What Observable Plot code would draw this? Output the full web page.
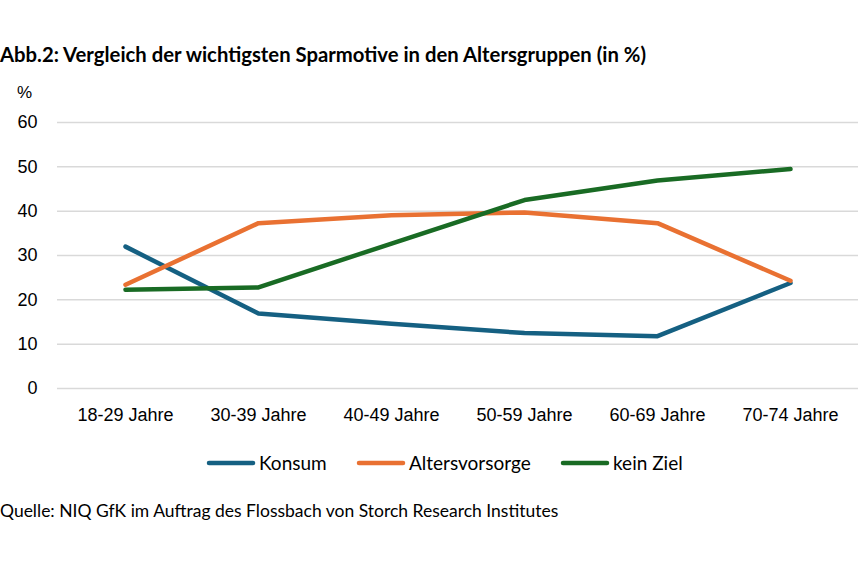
<!DOCTYPE html>
<html><head><meta charset="utf-8">
<script src="https://cdn.jsdelivr.net/npm/d3@7"></script>
<script src="https://cdn.jsdelivr.net/npm/@observablehq/plot@0.6"></script>
<style>
body{margin:0;background:#fff;width:868px;height:562px;position:relative;overflow:hidden;font-family:Lato,"Open Sans",sans-serif;color:#000}
#title{position:absolute;left:0;top:42px;font-weight:bold;font-size:20.3px;white-space:nowrap}
#pct{position:absolute;left:17px;top:83px;font-family:"Liberation Sans",Arial,sans-serif;font-size:17px}
#chart{position:absolute;left:0;top:80px}
.leg{position:absolute;top:451px;font-size:19px;display:flex;align-items:center;white-space:nowrap}
.leg svg{margin-right:3px}
#caption{position:absolute;left:0;top:500px;font-size:17.5px;white-space:nowrap}
</style></head>
<body>
<div id="title">Abb.2: Vergleich der wichtigsten Sparmotive in den Altersgruppen (in %)</div>
<div id="pct">%</div>
<div id="chart"></div>
<div id="legend"></div>
<div id="caption">Quelle: NIQ GfK im Auftrag des Flossbach von Storch Research Institutes</div>
<script>
const categories = ["18-29 Jahre","30-39 Jahre","40-49 Jahre","50-59 Jahre","60-69 Jahre","70-74 Jahre"];
const konsum = [32.0, 16.9, 14.6, 12.5, 11.8, 23.8];
const altersvorsorge = [23.4, 37.3, 39.1, 39.7, 37.3, 24.3];
const keinZiel = [22.3, 22.8, 32.7, 42.5, 46.9, 49.5];
const seriesNames = ["Konsum","Altersvorsorge","kein Ziel"];
const seriesColors = ["#156082","#E97132","#196B24"];
const yTicks = [0,10,20,30,40,50,60];

const seriesValues = [konsum, altersvorsorge, keinZiel];
const data = [];
seriesNames.forEach((s,i)=>categories.forEach((c,j)=>data.push({series:s, cat:c, value:seriesValues[i][j]})));

const chart = Plot.plot({
  width: 868, height: 360,
  marginTop: 42, marginBottom: 52, marginLeft: 57, marginRight: 10,
  style: {fontFamily: "'Liberation Sans', Arial, sans-serif", fontSize: "18px", color: "#000", background: "transparent"},
  x: {type: "point", domain: categories, padding: 0.5, label: null},
  y: {domain: [0,60], label: null},
  color: {domain: seriesNames, range: seriesColors},
  marks: [
    Plot.gridY(yTicks, {stroke: "#d9d9d9", strokeOpacity: 1, strokeWidth: 1.5}),
    Plot.axisY(yTicks, {tickSize: 0, tickPadding: 20, label: null}),
    Plot.axisX({tickSize: 0, tickPadding: 20, label: null}),
    Plot.line(data, {x: "cat", y: "value", z: "series", stroke: "series", strokeWidth: 4.5, strokeLinecap: "round", strokeLinejoin: "round"})
  ]
});
document.getElementById("chart").appendChild(chart);

const legLeft = [206, 356, 560];
const legend = document.getElementById("legend");
seriesNames.forEach((s,i)=>{
  const d = document.createElement("div");
  d.className = "leg";
  d.style.left = legLeft[i] + "px";
  d.innerHTML = `<svg width="50" height="10"><line x1="3" y1="5" x2="47" y2="5" stroke="${seriesColors[i]}" stroke-width="4.5" stroke-linecap="round"/></svg><span>${s}</span>`;
  legend.appendChild(d);
});
</script>
</body></html>
